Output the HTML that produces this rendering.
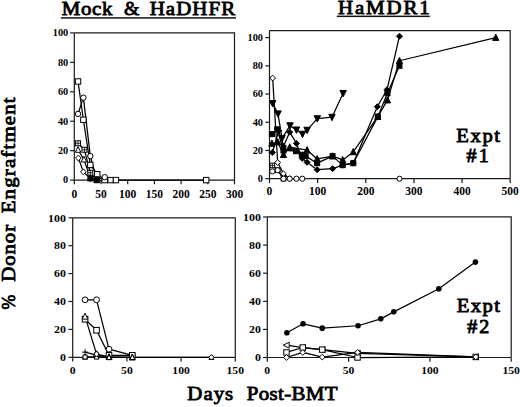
<!DOCTYPE html><html><head><meta charset="utf-8"><style>html,body{margin:0;padding:0;background:#fff;}svg{display:block;}</style></head><body>
<svg width="520" height="407" viewBox="0 0 520 407" font-family='"Liberation Serif", serif' font-weight="bold" fill="#000">
<rect width="520" height="407" fill="#fff"/>
<text transform="scale(1.1 1)" x="56.04" y="15.05" font-size="19.0" letter-spacing="0.619" font-weight="normal" stroke="#000" stroke-width="0.818">Mock</text>
<text transform="scale(1.1 1)" x="112.81" y="15.05" font-size="19.0" textLength="14.01" lengthAdjust="spacingAndGlyphs" font-weight="normal" stroke="#000" stroke-width="0.818">&amp;</text>
<text transform="scale(1.1 1)" x="136.04" y="15.05" font-size="19.0" letter-spacing="0.984" font-weight="normal" stroke="#000" stroke-width="0.818">HaDHFR</text>
<rect x="60.9" y="17.15" width="175.1" height="1.5" fill="#111"/>
<text transform="scale(1.1 1)" x="307.32" y="13.75" font-size="19.0" letter-spacing="1.658" font-weight="normal" stroke="#000" stroke-width="0.818">HaMDR1</text>
<rect x="336.8" y="15.6" width="93.0" height="1.5" fill="#111"/>
<g transform="translate(14.55 0) rotate(-90)"><text transform="scale(1.1 1)" x="-281.32" y="0.00" font-size="19.0" textLength="13.37" lengthAdjust="spacingAndGlyphs" font-weight="normal" stroke="#000" stroke-width="0.818">%</text><text transform="scale(1.1 1)" x="-256.14" y="0.00" font-size="19.0" letter-spacing="0.792" font-weight="normal" stroke="#000" stroke-width="0.818">Donor</text><text transform="scale(1.1 1)" x="-193.96" y="0.00" font-size="19.0" letter-spacing="1.051" font-weight="normal" stroke="#000" stroke-width="0.818">Engraftment</text></g>
<text transform="scale(1.1 1)" x="170.32" y="400.35" font-size="19.0" letter-spacing="0.880" font-weight="normal" stroke="#000" stroke-width="0.818">Days</text>
<text transform="scale(1.1 1)" x="224.23" y="400.35" font-size="19.0" letter-spacing="0.349" font-weight="normal" stroke="#000" stroke-width="0.818">Post-BMT</text>
<text transform="scale(1.1 1)" x="414.87" y="141.75" font-size="18.8" letter-spacing="1.412" font-weight="normal" stroke="#000" stroke-width="0.818">Expt</text>
<text transform="scale(1.1 1)" x="424.17" y="162.45" font-size="18.2" letter-spacing="1.858" font-weight="normal" stroke="#000" stroke-width="0.818">#1</text>
<text transform="scale(1.1 1)" x="415.32" y="312.25" font-size="18.8" letter-spacing="1.260" font-weight="normal" stroke="#000" stroke-width="0.818">Expt</text>
<text transform="scale(1.1 1)" x="424.81" y="332.85" font-size="18.2" letter-spacing="1.769" font-weight="normal" stroke="#000" stroke-width="0.818">#2</text>
<path d="M74.30 180.10H234.50" stroke="#1a1a1a" stroke-width="1.2" fill="none"/><path d="M74.30 32.90V180.10" stroke="#1a1a1a" stroke-width="1.2" fill="none"/><path d="M74.30 32.90H234.50V180.10" stroke="#1a1a1a" stroke-width="1.2" fill="none"/><path d="M74.30 180.10V184.30" stroke="#1a1a1a" stroke-width="1.2"/><text x="71.42" y="198.10" font-size="11.5" textLength="5.75" lengthAdjust="spacingAndGlyphs">0</text><path d="M101.00 180.10V184.30" stroke="#1a1a1a" stroke-width="1.2"/><text x="95.25" y="198.10" font-size="11.5" textLength="11.50" lengthAdjust="spacingAndGlyphs">50</text><path d="M127.70 180.10V184.30" stroke="#1a1a1a" stroke-width="1.2"/><text x="119.07" y="198.10" font-size="11.5" textLength="17.25" lengthAdjust="spacingAndGlyphs">100</text><path d="M154.40 180.10V184.30" stroke="#1a1a1a" stroke-width="1.2"/><text x="145.77" y="198.10" font-size="11.5" textLength="17.25" lengthAdjust="spacingAndGlyphs">150</text><path d="M181.10 180.10V184.30" stroke="#1a1a1a" stroke-width="1.2"/><text x="172.47" y="198.10" font-size="11.5" textLength="17.25" lengthAdjust="spacingAndGlyphs">200</text><path d="M207.80 180.10V184.30" stroke="#1a1a1a" stroke-width="1.2"/><text x="199.18" y="198.10" font-size="11.5" textLength="17.25" lengthAdjust="spacingAndGlyphs">250</text><path d="M234.50 180.10V184.30" stroke="#1a1a1a" stroke-width="1.2"/><text x="225.88" y="198.10" font-size="11.5" textLength="17.25" lengthAdjust="spacingAndGlyphs">300</text><path d="M70.10 180.10H74.30" stroke="#1a1a1a" stroke-width="1.2"/><text x="63.05" y="183.45" font-size="10" textLength="5.15" lengthAdjust="spacingAndGlyphs">0</text><path d="M70.10 150.66H74.30" stroke="#1a1a1a" stroke-width="1.2"/><text x="57.90" y="154.01" font-size="10" textLength="10.30" lengthAdjust="spacingAndGlyphs">20</text><path d="M70.10 121.22H74.30" stroke="#1a1a1a" stroke-width="1.2"/><text x="57.90" y="124.57" font-size="10" textLength="10.30" lengthAdjust="spacingAndGlyphs">40</text><path d="M70.10 91.78H74.30" stroke="#1a1a1a" stroke-width="1.2"/><text x="57.90" y="95.13" font-size="10" textLength="10.30" lengthAdjust="spacingAndGlyphs">60</text><path d="M70.10 62.34H74.30" stroke="#1a1a1a" stroke-width="1.2"/><text x="57.90" y="65.69" font-size="10" textLength="10.30" lengthAdjust="spacingAndGlyphs">80</text><path d="M70.10 32.90H74.30" stroke="#1a1a1a" stroke-width="1.2"/><text x="52.75" y="36.25" font-size="10" textLength="15.45" lengthAdjust="spacingAndGlyphs">100</text>
<path d="M269.50 178.70H510.20" stroke="#1a1a1a" stroke-width="1.2" fill="none"/><path d="M269.50 30.60V178.70" stroke="#1a1a1a" stroke-width="1.2" fill="none"/><path d="M269.50 30.60H510.20V178.70" stroke="#1a1a1a" stroke-width="1.2" fill="none"/><path d="M269.50 178.70V182.90" stroke="#1a1a1a" stroke-width="1.2"/><text x="266.62" y="195.20" font-size="11.5" textLength="5.75" lengthAdjust="spacingAndGlyphs">0</text><path d="M317.64 178.70V182.90" stroke="#1a1a1a" stroke-width="1.2"/><text x="309.01" y="195.20" font-size="11.5" textLength="17.25" lengthAdjust="spacingAndGlyphs">100</text><path d="M365.78 178.70V182.90" stroke="#1a1a1a" stroke-width="1.2"/><text x="357.15" y="195.20" font-size="11.5" textLength="17.25" lengthAdjust="spacingAndGlyphs">200</text><path d="M413.92 178.70V182.90" stroke="#1a1a1a" stroke-width="1.2"/><text x="405.29" y="195.20" font-size="11.5" textLength="17.25" lengthAdjust="spacingAndGlyphs">300</text><path d="M462.06 178.70V182.90" stroke="#1a1a1a" stroke-width="1.2"/><text x="453.44" y="195.20" font-size="11.5" textLength="17.25" lengthAdjust="spacingAndGlyphs">400</text><path d="M510.20 178.70V182.90" stroke="#1a1a1a" stroke-width="1.2"/><text x="501.57" y="195.20" font-size="11.5" textLength="17.25" lengthAdjust="spacingAndGlyphs">500</text><path d="M265.30 178.70H269.50" stroke="#1a1a1a" stroke-width="1.2"/><text x="257.85" y="182.05" font-size="10" textLength="5.15" lengthAdjust="spacingAndGlyphs">0</text><path d="M265.30 150.48H269.50" stroke="#1a1a1a" stroke-width="1.2"/><text x="252.70" y="153.83" font-size="10" textLength="10.30" lengthAdjust="spacingAndGlyphs">20</text><path d="M265.30 122.26H269.50" stroke="#1a1a1a" stroke-width="1.2"/><text x="252.70" y="125.61" font-size="10" textLength="10.30" lengthAdjust="spacingAndGlyphs">40</text><path d="M265.30 94.04H269.50" stroke="#1a1a1a" stroke-width="1.2"/><text x="252.70" y="97.39" font-size="10" textLength="10.30" lengthAdjust="spacingAndGlyphs">60</text><path d="M265.30 65.82H269.50" stroke="#1a1a1a" stroke-width="1.2"/><text x="252.70" y="69.17" font-size="10" textLength="10.30" lengthAdjust="spacingAndGlyphs">80</text><path d="M265.30 37.60H269.50" stroke="#1a1a1a" stroke-width="1.2"/><text x="247.55" y="40.95" font-size="10" textLength="15.45" lengthAdjust="spacingAndGlyphs">100</text>
<path d="M72.70 357.30H235.30" stroke="#1a1a1a" stroke-width="1.2" fill="none"/><path d="M72.70 217.80V357.30" stroke="#1a1a1a" stroke-width="1.2" fill="none"/><path d="M72.70 217.80H235.30V357.30" stroke="#1a1a1a" stroke-width="1.2" fill="none"/><path d="M72.70 357.30V361.50" stroke="#1a1a1a" stroke-width="1.2"/><text x="69.79" y="374.10" font-size="11.2" textLength="5.82" lengthAdjust="spacingAndGlyphs">0</text><path d="M126.90 357.30V361.50" stroke="#1a1a1a" stroke-width="1.2"/><text x="121.08" y="374.10" font-size="11.2" textLength="11.65" lengthAdjust="spacingAndGlyphs">50</text><path d="M181.10 357.30V361.50" stroke="#1a1a1a" stroke-width="1.2"/><text x="172.36" y="374.10" font-size="11.2" textLength="17.47" lengthAdjust="spacingAndGlyphs">100</text><path d="M235.30 357.30V361.50" stroke="#1a1a1a" stroke-width="1.2"/><text x="226.56" y="374.10" font-size="11.2" textLength="17.47" lengthAdjust="spacingAndGlyphs">150</text><path d="M68.50 357.30H72.70" stroke="#1a1a1a" stroke-width="1.2"/><text x="59.96" y="361.05" font-size="11.2" textLength="5.94" lengthAdjust="spacingAndGlyphs">0</text><path d="M68.50 329.40H72.70" stroke="#1a1a1a" stroke-width="1.2"/><text x="54.03" y="333.15" font-size="11.2" textLength="11.87" lengthAdjust="spacingAndGlyphs">20</text><path d="M68.50 301.50H72.70" stroke="#1a1a1a" stroke-width="1.2"/><text x="54.03" y="305.25" font-size="11.2" textLength="11.87" lengthAdjust="spacingAndGlyphs">40</text><path d="M68.50 273.60H72.70" stroke="#1a1a1a" stroke-width="1.2"/><text x="54.03" y="277.35" font-size="11.2" textLength="11.87" lengthAdjust="spacingAndGlyphs">60</text><path d="M68.50 245.70H72.70" stroke="#1a1a1a" stroke-width="1.2"/><text x="54.03" y="249.45" font-size="11.2" textLength="11.87" lengthAdjust="spacingAndGlyphs">80</text><path d="M68.50 217.80H72.70" stroke="#1a1a1a" stroke-width="1.2"/><text x="48.09" y="221.55" font-size="11.2" textLength="17.81" lengthAdjust="spacingAndGlyphs">100</text>
<path d="M267.30 357.50H511.20" stroke="#1a1a1a" stroke-width="1.2" fill="none"/><path d="M267.30 216.80V357.50" stroke="#1a1a1a" stroke-width="1.2" fill="none"/><path d="M267.30 216.80H511.20V357.50" stroke="#1a1a1a" stroke-width="1.2" fill="none"/><path d="M267.30 357.50V361.70" stroke="#1a1a1a" stroke-width="1.2"/><text x="264.39" y="373.60" font-size="11.2" textLength="5.82" lengthAdjust="spacingAndGlyphs">0</text><path d="M348.60 357.50V361.70" stroke="#1a1a1a" stroke-width="1.2"/><text x="342.78" y="373.60" font-size="11.2" textLength="11.65" lengthAdjust="spacingAndGlyphs">50</text><path d="M429.90 357.50V361.70" stroke="#1a1a1a" stroke-width="1.2"/><text x="421.16" y="373.60" font-size="11.2" textLength="17.47" lengthAdjust="spacingAndGlyphs">100</text><path d="M511.20 357.50V361.70" stroke="#1a1a1a" stroke-width="1.2"/><text x="502.46" y="373.60" font-size="11.2" textLength="17.47" lengthAdjust="spacingAndGlyphs">150</text><path d="M263.10 357.50H267.30" stroke="#1a1a1a" stroke-width="1.2"/><text x="254.96" y="361.25" font-size="11.2" textLength="5.94" lengthAdjust="spacingAndGlyphs">0</text><path d="M263.10 329.40H267.30" stroke="#1a1a1a" stroke-width="1.2"/><text x="249.03" y="333.15" font-size="11.2" textLength="11.87" lengthAdjust="spacingAndGlyphs">20</text><path d="M263.10 301.30H267.30" stroke="#1a1a1a" stroke-width="1.2"/><text x="249.03" y="305.05" font-size="11.2" textLength="11.87" lengthAdjust="spacingAndGlyphs">40</text><path d="M263.10 273.20H267.30" stroke="#1a1a1a" stroke-width="1.2"/><text x="249.03" y="276.95" font-size="11.2" textLength="11.87" lengthAdjust="spacingAndGlyphs">60</text><path d="M263.10 245.10H267.30" stroke="#1a1a1a" stroke-width="1.2"/><text x="249.03" y="248.85" font-size="11.2" textLength="11.87" lengthAdjust="spacingAndGlyphs">80</text><path d="M263.10 217.00H267.30" stroke="#1a1a1a" stroke-width="1.2"/><text x="243.09" y="220.75" font-size="11.2" textLength="17.81" lengthAdjust="spacingAndGlyphs">100</text>
<path d="M78.04 81.48 L83.38 119.75 L90.32 164.94 L97.26 174.21 L104.74 180.10 L110.61 180.10 L115.95 180.10 L206.20 180.10" fill="none" stroke="#000" stroke-width="1.25" stroke-linejoin="round"/><path d="M78.04 113.86 L83.38 97.67 L90.32 156.11 L96.73 179.36 L104.74 177.16" fill="none" stroke="#000" stroke-width="1.25" stroke-linejoin="round"/><path d="M78.04 143.30 L84.45 149.78 L90.32 172.74 L96.73 180.10" fill="none" stroke="#000" stroke-width="1.25" stroke-linejoin="round"/><path d="M78.04 149.78 L83.91 159.49 L90.32 177.89 L96.73 180.10" fill="none" stroke="#000" stroke-width="1.25" stroke-linejoin="round"/><path d="M78.36 158.02 L83.38 171.86 L90.32 178.63 L96.73 180.10" fill="none" stroke="#000" stroke-width="1.25" stroke-linejoin="round"/><path d="M90.32 178.63 L96.73 180.10" fill="none" stroke="#000" stroke-width="1.25" stroke-linejoin="round"/><path d="M272.68 103.49 L278.02 113.79 L282.02 138.35 L290.01 125.65 L296.46 129.88 L302.48 134.11 L307.05 130.16 L317.30 118.59 L331.99 117.18 L343.11 93.33" fill="none" stroke="#000" stroke-width="1.25" stroke-linejoin="round"/><path d="M272.39 152.46 L278.65 130.73 L283.46 146.25 L289.72 132.14 L296.46 143.42 L302.24 158.38 L307.05 162.33 L317.16 169.67 L332.56 168.68 L342.67 165.15 L353.26 163.18 L377.33 106.74 L386.96 89.81 L399.48 36.19" fill="none" stroke="#000" stroke-width="1.25" stroke-linejoin="round"/><path d="M271.91 134.11 L277.20 129.31 L283.46 150.48 L295.98 151.19 L301.75 154.71 L305.61 156.12 L317.16 163.18 L332.56 156.12 L342.67 165.15 L353.26 163.18 L377.81 116.62 L387.44 93.19 L399.48 65.82" fill="none" stroke="#000" stroke-width="1.25" stroke-linejoin="round"/><path d="M271.91 143.42 L277.68 142.01 L283.46 154.71 L289.72 147.23 L307.05 150.06 L317.16 158.95 L332.56 156.12 L342.67 159.93 L353.26 151.89 L377.81 116.62 L387.44 100.11 L399.48 60.74 L495.76 37.60" fill="none" stroke="#000" stroke-width="1.25" stroke-linejoin="round"/><path d="M272.68 78.10 L277.68 162.47 L283.46 173.76 L289.72 178.70" fill="none" stroke="#000" stroke-width="1.25" stroke-linejoin="round"/><path d="M272.39 165.44 L277.68 170.23 L283.46 178.70" fill="none" stroke="#000" stroke-width="1.25" stroke-linejoin="round"/><path d="M272.39 171.36 L277.68 170.23 L283.46 178.70 L289.72 178.70 L296.46 178.70 L302.24 178.70" fill="none" stroke="#000" stroke-width="1.25" stroke-linejoin="round"/><path d="M85.06 299.83 L96.55 299.83 L109.01 349.21 L132.32 355.35" fill="none" stroke="#000" stroke-width="1.25" stroke-linejoin="round"/><path d="M85.06 319.22 L96.55 330.24 L109.01 355.35 L132.32 355.35" fill="none" stroke="#000" stroke-width="1.25" stroke-linejoin="round"/><path d="M85.06 316.43 L96.55 354.09 L109.01 356.88 L132.32 357.30" fill="none" stroke="#000" stroke-width="1.25" stroke-linejoin="round"/><path d="M85.06 352.14 L96.55 355.21 L109.01 357.30" fill="none" stroke="#000" stroke-width="1.25" stroke-linejoin="round"/><path d="M85.06 356.88 L96.55 356.88 L109.01 357.30 L132.32 357.30 L211.45 357.30" fill="none" stroke="#000" stroke-width="1.25" stroke-linejoin="round"/><path d="M286.89 332.70 L303.07 323.78 L322.26 328.14 L358.03 325.75 L380.79 318.86 L393.80 311.84 L438.84 288.80 L475.43 262.10" fill="none" stroke="#000" stroke-width="1.25" stroke-linejoin="round"/><path d="M286.49 345.21 L302.75 347.52 L322.26 349.63 L357.54 353.29 L475.75 356.94" fill="none" stroke="#000" stroke-width="1.25" stroke-linejoin="round"/><path d="M286.49 352.44 L302.75 347.52 L322.26 349.63 L357.54 357.50 L475.75 356.94" fill="none" stroke="#000" stroke-width="1.25" stroke-linejoin="round"/><path d="M286.49 357.50 L302.75 352.44 L322.26 357.08 L357.54 352.30 L475.75 356.94" fill="none" stroke="#000" stroke-width="1.25" stroke-linejoin="round"/>
<rect x="75.34" y="78.78" width="5.40" height="5.40" fill="#fff" stroke="#000" stroke-width="1.0"/><rect x="80.68" y="117.05" width="5.40" height="5.40" fill="#fff" stroke="#000" stroke-width="1.0"/><rect x="87.62" y="162.24" width="5.40" height="5.40" fill="#fff" stroke="#000" stroke-width="1.0"/><rect x="94.56" y="171.51" width="5.40" height="5.40" fill="#fff" stroke="#000" stroke-width="1.0"/><rect x="102.04" y="177.40" width="5.40" height="5.40" fill="#fff" stroke="#000" stroke-width="1.0"/><rect x="107.91" y="177.40" width="5.40" height="5.40" fill="#fff" stroke="#000" stroke-width="1.0"/><rect x="113.25" y="177.40" width="5.40" height="5.40" fill="#fff" stroke="#000" stroke-width="1.0"/><rect x="203.50" y="177.40" width="5.40" height="5.40" fill="#fff" stroke="#000" stroke-width="1.0"/><circle cx="78.04" cy="113.86" r="2.70" fill="#fff" stroke="#000" stroke-width="1.0"/><circle cx="83.38" cy="97.67" r="2.70" fill="#fff" stroke="#000" stroke-width="1.0"/><circle cx="90.32" cy="156.11" r="2.70" fill="#fff" stroke="#000" stroke-width="1.0"/><circle cx="96.73" cy="179.36" r="2.70" fill="#fff" stroke="#000" stroke-width="1.0"/><circle cx="104.74" cy="177.16" r="2.70" fill="#fff" stroke="#000" stroke-width="1.0"/><rect x="75.54" y="140.80" width="5.00" height="5.00" fill="#fff" stroke="#000" stroke-width="1.0"/><path d="M75.54 143.30H80.54M78.04 140.80V145.80" stroke="#000" stroke-width="0.8"/><rect x="81.95" y="147.28" width="5.00" height="5.00" fill="#fff" stroke="#000" stroke-width="1.0"/><path d="M81.95 149.78H86.95M84.45 147.28V152.28" stroke="#000" stroke-width="0.8"/><rect x="87.82" y="170.24" width="5.00" height="5.00" fill="#fff" stroke="#000" stroke-width="1.0"/><path d="M87.82 172.74H92.82M90.32 170.24V175.24" stroke="#000" stroke-width="0.8"/><rect x="94.23" y="177.60" width="5.00" height="5.00" fill="#fff" stroke="#000" stroke-width="1.0"/><path d="M94.23 180.10H99.23M96.73 177.60V182.60" stroke="#000" stroke-width="0.8"/><path d="M78.04 146.68L80.84 152.28L75.24 152.28Z" fill="#fff" stroke="#000" stroke-width="1"/><path d="M83.91 156.39L86.71 161.99L81.11 161.99Z" fill="#fff" stroke="#000" stroke-width="1"/><path d="M90.32 174.79L93.12 180.39L87.52 180.39Z" fill="#fff" stroke="#000" stroke-width="1"/><path d="M96.73 177.00L99.53 182.60L93.93 182.60Z" fill="#fff" stroke="#000" stroke-width="1"/><path d="M78.36 155.12L81.26 158.02L78.36 160.92L75.46 158.02Z" fill="#fff" stroke="#000" stroke-width="1"/><path d="M83.38 168.96L86.28 171.86L83.38 174.76L80.48 171.86Z" fill="#fff" stroke="#000" stroke-width="1"/><path d="M90.32 175.73L93.22 178.63L90.32 181.53L87.42 178.63Z" fill="#fff" stroke="#000" stroke-width="1"/><path d="M96.73 177.20L99.63 180.10L96.73 183.00L93.83 180.10Z" fill="#fff" stroke="#000" stroke-width="1"/><rect x="88.02" y="176.33" width="4.60" height="4.60" fill="#000" stroke="#000" stroke-width="1"/><rect x="94.43" y="177.80" width="4.60" height="4.60" fill="#000" stroke="#000" stroke-width="1"/><path d="M272.68 106.99L275.88 100.59L269.48 100.59Z" fill="#000" stroke="#000" stroke-width="1"/><path d="M278.02 117.29L281.22 110.89L274.82 110.89Z" fill="#000" stroke="#000" stroke-width="1"/><path d="M282.02 141.85L285.22 135.45L278.82 135.45Z" fill="#000" stroke="#000" stroke-width="1"/><path d="M290.01 129.15L293.21 122.75L286.81 122.75Z" fill="#000" stroke="#000" stroke-width="1"/><path d="M296.46 133.38L299.66 126.98L293.26 126.98Z" fill="#000" stroke="#000" stroke-width="1"/><path d="M302.48 137.61L305.68 131.21L299.28 131.21Z" fill="#000" stroke="#000" stroke-width="1"/><path d="M307.05 133.66L310.25 127.26L303.85 127.26Z" fill="#000" stroke="#000" stroke-width="1"/><path d="M317.30 122.09L320.50 115.69L314.10 115.69Z" fill="#000" stroke="#000" stroke-width="1"/><path d="M331.99 120.68L335.19 114.28L328.79 114.28Z" fill="#000" stroke="#000" stroke-width="1"/><path d="M343.11 96.83L346.31 90.43L339.91 90.43Z" fill="#000" stroke="#000" stroke-width="1"/><path d="M272.39 149.46L275.39 152.46L272.39 155.46L269.39 152.46Z" fill="#000" stroke="#000" stroke-width="1"/><path d="M278.65 127.73L281.65 130.73L278.65 133.73L275.65 130.73Z" fill="#000" stroke="#000" stroke-width="1"/><path d="M283.46 143.25L286.46 146.25L283.46 149.25L280.46 146.25Z" fill="#000" stroke="#000" stroke-width="1"/><path d="M289.72 129.14L292.72 132.14L289.72 135.14L286.72 132.14Z" fill="#000" stroke="#000" stroke-width="1"/><path d="M296.46 140.42L299.46 143.42L296.46 146.42L293.46 143.42Z" fill="#000" stroke="#000" stroke-width="1"/><path d="M302.24 155.38L305.24 158.38L302.24 161.38L299.24 158.38Z" fill="#000" stroke="#000" stroke-width="1"/><path d="M307.05 159.33L310.05 162.33L307.05 165.33L304.05 162.33Z" fill="#000" stroke="#000" stroke-width="1"/><path d="M317.16 166.67L320.16 169.67L317.16 172.67L314.16 169.67Z" fill="#000" stroke="#000" stroke-width="1"/><path d="M332.56 165.68L335.56 168.68L332.56 171.68L329.56 168.68Z" fill="#000" stroke="#000" stroke-width="1"/><path d="M342.67 162.15L345.67 165.15L342.67 168.15L339.67 165.15Z" fill="#000" stroke="#000" stroke-width="1"/><path d="M353.26 160.18L356.26 163.18L353.26 166.18L350.26 163.18Z" fill="#000" stroke="#000" stroke-width="1"/><path d="M377.33 103.74L380.33 106.74L377.33 109.74L374.33 106.74Z" fill="#000" stroke="#000" stroke-width="1"/><path d="M386.96 86.81L389.96 89.81L386.96 92.81L383.96 89.81Z" fill="#000" stroke="#000" stroke-width="1"/><path d="M399.48 33.19L402.48 36.19L399.48 39.19L396.48 36.19Z" fill="#000" stroke="#000" stroke-width="1"/><rect x="269.41" y="131.61" width="5.00" height="5.00" fill="#000" stroke="#000" stroke-width="1"/><rect x="274.70" y="126.81" width="5.00" height="5.00" fill="#000" stroke="#000" stroke-width="1"/><rect x="280.96" y="147.98" width="5.00" height="5.00" fill="#000" stroke="#000" stroke-width="1"/><rect x="293.48" y="148.69" width="5.00" height="5.00" fill="#000" stroke="#000" stroke-width="1"/><rect x="299.25" y="152.21" width="5.00" height="5.00" fill="#000" stroke="#000" stroke-width="1"/><rect x="303.11" y="153.62" width="5.00" height="5.00" fill="#000" stroke="#000" stroke-width="1"/><rect x="314.66" y="160.68" width="5.00" height="5.00" fill="#000" stroke="#000" stroke-width="1"/><rect x="330.06" y="153.62" width="5.00" height="5.00" fill="#000" stroke="#000" stroke-width="1"/><rect x="340.17" y="162.65" width="5.00" height="5.00" fill="#000" stroke="#000" stroke-width="1"/><rect x="350.76" y="160.68" width="5.00" height="5.00" fill="#000" stroke="#000" stroke-width="1"/><rect x="375.31" y="114.12" width="5.00" height="5.00" fill="#000" stroke="#000" stroke-width="1"/><rect x="384.94" y="90.69" width="5.00" height="5.00" fill="#000" stroke="#000" stroke-width="1"/><rect x="396.98" y="63.32" width="5.00" height="5.00" fill="#000" stroke="#000" stroke-width="1"/><path d="M271.91 140.02L275.01 146.22L268.81 146.22Z" fill="#000" stroke="#000" stroke-width="1"/><path d="M277.68 138.61L280.78 144.81L274.58 144.81Z" fill="#000" stroke="#000" stroke-width="1"/><path d="M283.46 151.31L286.56 157.51L280.36 157.51Z" fill="#000" stroke="#000" stroke-width="1"/><path d="M289.72 143.83L292.82 150.03L286.62 150.03Z" fill="#000" stroke="#000" stroke-width="1"/><path d="M307.05 146.66L310.15 152.86L303.95 152.86Z" fill="#000" stroke="#000" stroke-width="1"/><path d="M317.16 155.55L320.26 161.75L314.06 161.75Z" fill="#000" stroke="#000" stroke-width="1"/><path d="M332.56 152.72L335.66 158.92L329.46 158.92Z" fill="#000" stroke="#000" stroke-width="1"/><path d="M342.67 156.53L345.77 162.73L339.57 162.73Z" fill="#000" stroke="#000" stroke-width="1"/><path d="M353.26 148.49L356.36 154.69L350.16 154.69Z" fill="#000" stroke="#000" stroke-width="1"/><path d="M377.81 113.22L380.92 119.42L374.71 119.42Z" fill="#000" stroke="#000" stroke-width="1"/><path d="M387.44 96.71L390.54 102.91L384.34 102.91Z" fill="#000" stroke="#000" stroke-width="1"/><path d="M399.48 57.34L402.58 63.54L396.38 63.54Z" fill="#000" stroke="#000" stroke-width="1"/><path d="M495.76 34.20L498.86 40.40L492.66 40.40Z" fill="#000" stroke="#000" stroke-width="1"/><path d="M272.68 75.20L275.58 78.10L272.68 81.00L269.78 78.10Z" fill="#fff" stroke="#000" stroke-width="1"/><path d="M277.68 159.57L280.58 162.47L277.68 165.37L274.78 162.47Z" fill="#fff" stroke="#000" stroke-width="1"/><path d="M283.46 170.86L286.36 173.76L283.46 176.66L280.56 173.76Z" fill="#fff" stroke="#000" stroke-width="1"/><path d="M289.72 175.80L292.62 178.70L289.72 181.60L286.82 178.70Z" fill="#fff" stroke="#000" stroke-width="1"/><rect x="270.09" y="163.14" width="4.60" height="4.60" fill="#fff" stroke="#000" stroke-width="1.0"/><path d="M270.09 165.44H274.69M272.39 163.14V167.74" stroke="#000" stroke-width="0.8"/><rect x="275.38" y="167.93" width="4.60" height="4.60" fill="#fff" stroke="#000" stroke-width="1.0"/><path d="M275.38 170.23H279.98M277.68 167.93V172.53" stroke="#000" stroke-width="0.8"/><rect x="281.16" y="176.40" width="4.60" height="4.60" fill="#fff" stroke="#000" stroke-width="1.0"/><path d="M281.16 178.70H285.76M283.46 176.40V181.00" stroke="#000" stroke-width="0.8"/><circle cx="272.39" cy="171.36" r="2.60" fill="#fff" stroke="#000" stroke-width="1.0"/><circle cx="277.68" cy="170.23" r="2.60" fill="#fff" stroke="#000" stroke-width="1.0"/><circle cx="283.46" cy="178.70" r="2.60" fill="#fff" stroke="#000" stroke-width="1.0"/><circle cx="289.72" cy="178.70" r="2.60" fill="#fff" stroke="#000" stroke-width="1.0"/><circle cx="296.46" cy="178.70" r="2.60" fill="#fff" stroke="#000" stroke-width="1.0"/><circle cx="302.24" cy="178.70" r="2.60" fill="#fff" stroke="#000" stroke-width="1.0"/><circle cx="399.48" cy="178.70" r="2.50" fill="#fff" stroke="#000" stroke-width="1.0"/><circle cx="85.06" cy="299.83" r="2.90" fill="#fff" stroke="#000" stroke-width="1.0"/><circle cx="96.55" cy="299.83" r="2.90" fill="#fff" stroke="#000" stroke-width="1.0"/><circle cx="109.01" cy="349.21" r="2.90" fill="#fff" stroke="#000" stroke-width="1.0"/><circle cx="132.32" cy="355.35" r="2.90" fill="#fff" stroke="#000" stroke-width="1.0"/><rect x="82.26" y="316.42" width="5.60" height="5.60" fill="#fff" stroke="#000" stroke-width="1.0"/><rect x="93.75" y="327.44" width="5.60" height="5.60" fill="#fff" stroke="#000" stroke-width="1.0"/><rect x="106.21" y="352.55" width="5.60" height="5.60" fill="#fff" stroke="#000" stroke-width="1.0"/><rect x="129.52" y="352.55" width="5.60" height="5.60" fill="#fff" stroke="#000" stroke-width="1.0"/><path d="M85.06 313.13L88.06 319.13L82.06 319.13Z" fill="#fff" stroke="#000" stroke-width="1"/><path d="M96.55 350.79L99.55 356.79L93.55 356.79Z" fill="#fff" stroke="#000" stroke-width="1"/><path d="M109.01 353.58L112.01 359.58L106.01 359.58Z" fill="#fff" stroke="#000" stroke-width="1"/><path d="M132.32 354.00L135.32 360.00L129.32 360.00Z" fill="#fff" stroke="#000" stroke-width="1"/><path d="M82.06 352.14H88.06M85.06 349.14V355.14" stroke="#000" stroke-width="1"/><path d="M93.55 355.21H99.55M96.55 352.21V358.21" stroke="#000" stroke-width="1"/><path d="M106.01 357.30H112.01M109.01 354.30V360.30" stroke="#000" stroke-width="1"/><path d="M85.06 354.08L87.56 359.08L82.56 359.08Z" fill="#fff" stroke="#000" stroke-width="1"/><path d="M96.55 354.08L99.05 359.08L94.05 359.08Z" fill="#fff" stroke="#000" stroke-width="1"/><path d="M109.01 354.50L111.51 359.50L106.51 359.50Z" fill="#fff" stroke="#000" stroke-width="1"/><path d="M132.32 354.50L134.82 359.50L129.82 359.50Z" fill="#fff" stroke="#000" stroke-width="1"/><path d="M211.45 354.50L213.95 359.50L208.95 359.50Z" fill="#fff" stroke="#000" stroke-width="1"/><rect x="83.06" y="355.02" width="4.00" height="4.00" fill="#fff" stroke="#000" stroke-width="1.0"/><circle cx="96.55" cy="354.09" r="2.30" fill="#fff" stroke="#000" stroke-width="1.0"/><path d="M211.45 354.60L214.15 357.30L211.45 360.00L208.75 357.30Z" fill="#fff" stroke="#000" stroke-width="1"/><circle cx="286.89" cy="332.70" r="2.80" fill="#000"/><circle cx="303.07" cy="323.78" r="2.80" fill="#000"/><circle cx="322.26" cy="328.14" r="2.80" fill="#000"/><circle cx="358.03" cy="325.75" r="2.80" fill="#000"/><circle cx="380.79" cy="318.86" r="2.80" fill="#000"/><circle cx="393.80" cy="311.84" r="2.80" fill="#000"/><circle cx="438.84" cy="288.80" r="2.80" fill="#000"/><circle cx="475.43" cy="262.10" r="2.80" fill="#000"/><path d="M283.19 345.21L289.19 342.21L289.19 348.21Z" fill="#fff" stroke="#000" stroke-width="1"/><path d="M299.45 347.52L305.45 344.52L305.45 350.52Z" fill="#fff" stroke="#000" stroke-width="1"/><path d="M318.96 349.63L324.96 346.63L324.96 352.63Z" fill="#fff" stroke="#000" stroke-width="1"/><path d="M354.24 353.29L360.24 350.29L360.24 356.29Z" fill="#fff" stroke="#000" stroke-width="1"/><path d="M472.45 356.94L478.45 353.94L478.45 359.94Z" fill="#fff" stroke="#000" stroke-width="1"/><rect x="283.79" y="349.74" width="5.40" height="5.40" fill="#fff" stroke="#000" stroke-width="1.0"/><rect x="300.05" y="344.82" width="5.40" height="5.40" fill="#fff" stroke="#000" stroke-width="1.0"/><rect x="319.56" y="346.93" width="5.40" height="5.40" fill="#fff" stroke="#000" stroke-width="1.0"/><rect x="354.84" y="354.80" width="5.40" height="5.40" fill="#fff" stroke="#000" stroke-width="1.0"/><rect x="473.05" y="354.24" width="5.40" height="5.40" fill="#fff" stroke="#000" stroke-width="1.0"/><path d="M286.49 354.60L289.39 357.50L286.49 360.40L283.59 357.50Z" fill="#fff" stroke="#000" stroke-width="1"/><path d="M302.75 349.54L305.65 352.44L302.75 355.34L299.85 352.44Z" fill="#fff" stroke="#000" stroke-width="1"/><path d="M322.26 354.18L325.16 357.08L322.26 359.98L319.36 357.08Z" fill="#fff" stroke="#000" stroke-width="1"/><path d="M357.54 349.40L360.44 352.30L357.54 355.20L354.64 352.30Z" fill="#fff" stroke="#000" stroke-width="1"/><path d="M475.75 354.04L478.65 356.94L475.75 359.84L472.85 356.94Z" fill="#fff" stroke="#000" stroke-width="1"/>
</svg></body></html>
